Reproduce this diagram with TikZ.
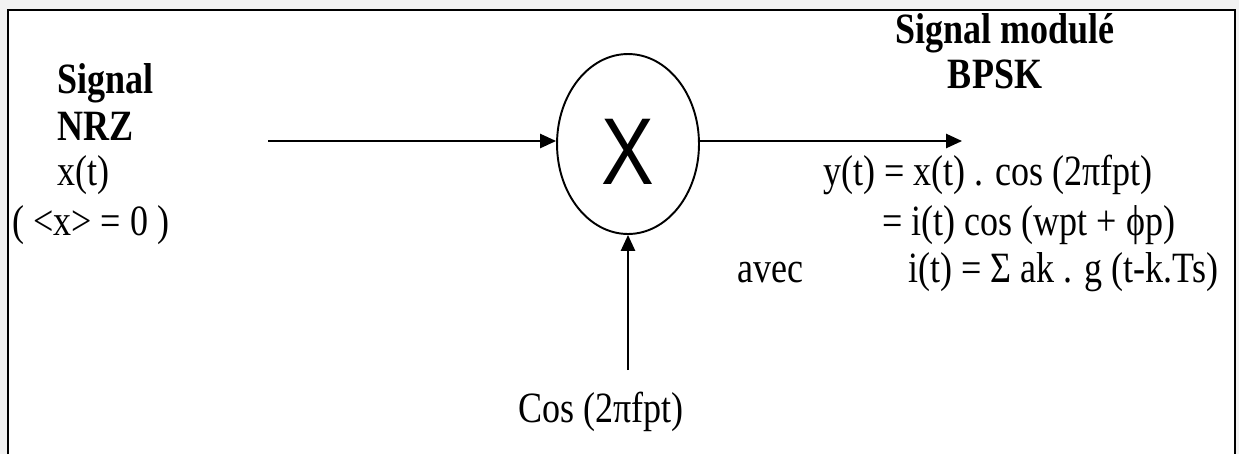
\documentclass[tikz,border=0pt]{standalone}
\usepackage{fontspec}
\setmainfont{Liberation Serif}
\newfontfamily\multfont{Liberation Sans}
\usetikzlibrary{arrows.meta,shapes.geometric}

\begin{document}
\begin{tikzpicture}[
  x=0.02cm, y=-0.02cm,
  lbl/.style={inner sep=0pt, yscale=1.2, font=\fontsize{20.5}{24}\selectfont},
  title/.style={lbl, font=\fontsize{20.5}{24}\selectfont\bfseries},
  mult/.style={ellipse, draw, line width=1.1pt, minimum width=2.84cm, minimum height=3.6cm, inner sep=0pt, text height=45.8pt, text depth=0pt, font=\multfont\fontsize{45}{45}\selectfont},
  arrow/.style={-{Triangle[length=9pt, width=8pt]}, line width=1.1pt}
]
\useasboundingbox (0,0) rectangle (1239,454);
\fill[black!5] (0,0) rectangle (1239,454);
\fill[white] (8,10) rectangle (1235,454);
\draw[line width=1.3pt] (8,454) -- (8,10) -- (1235,10) -- (1235,454);

% multiplieur
\node[mult] (mult) at (628,144) {\scalebox{1}[1.2]{X}};
\coordinate (in) at (268,141);
\coordinate (out) at (962,141);
\coordinate (lo) at (628,370);

\draw[arrow] (in) -- (in -| mult.west);
\draw[arrow] (out -| mult.east) -- (out);
\draw[arrow] (lo) -- (mult);

% entree
\node[title, anchor=base west] (sig) at (57,93) {Signal};
\node[title, anchor=base west] (nrz) at (57,140) {NRZ};
\node[lbl, anchor=base west] (xt) at (57,185) {x(t)};
\node[lbl, anchor=base west] (mean) at (12,235) {( <x> = 0 )};

% sortie
\node[title, anchor=base] (mod) at (1005,43) {Signal modulé};
\node[title, anchor=base] (bpsk) at (995,88) {BPSK};
\node[lbl, anchor=base west] (eq1) at (823,185) {y(t) = x(t) . cos (2πfpt)};
\node[lbl, anchor=base west] (eq2) at (882,235) {= i(t) cos (wpt + ϕp)};
\node[lbl, anchor=base west] (avec) at (737,282) {avec};
\node[lbl, anchor=base west] (eq3) at (908,282) {i(t) = Σ ak . g (t-k.Ts)};

% porteuse
\node[lbl, anchor=base] (carrier) at (601,422) {Cos (2πfpt)};
\end{tikzpicture}
\end{document}
